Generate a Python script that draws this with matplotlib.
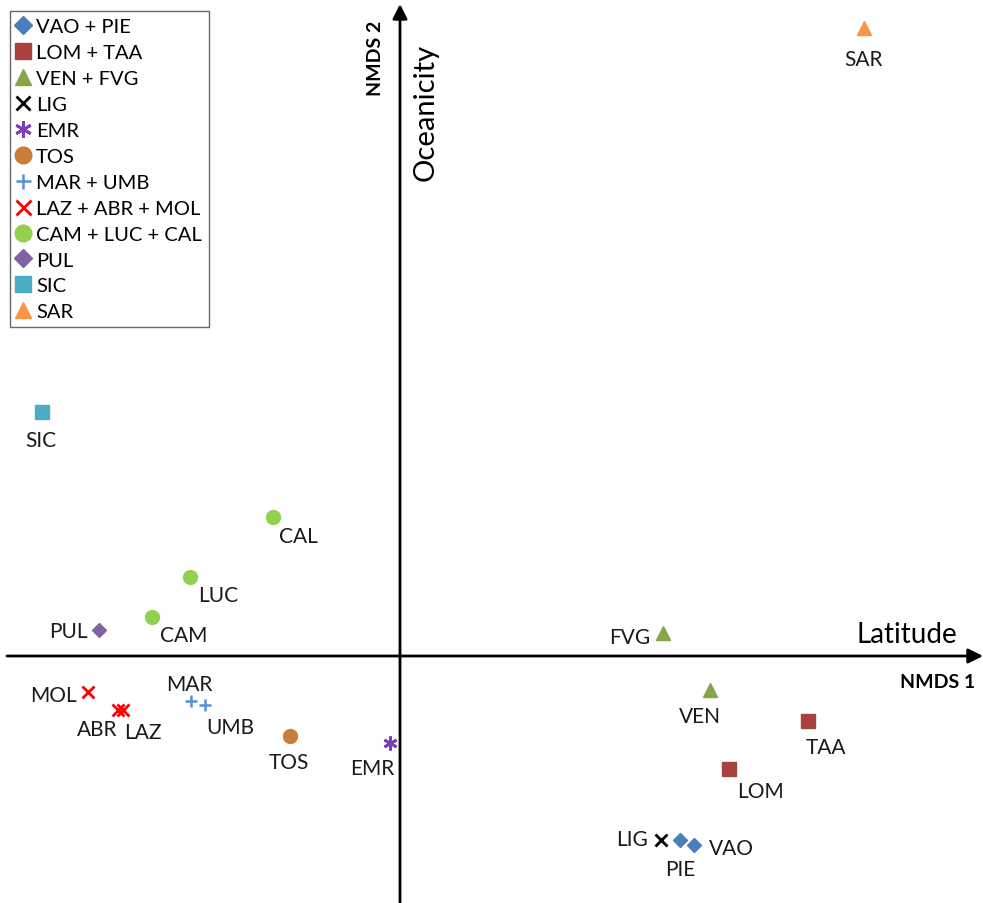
import matplotlib.pyplot as plt

plt.rcParams['font.family'] = ['Lato', 'DejaVu Sans']

# NMDS scores per region
regions = ['SAR', 'SIC', 'CAL', 'LUC', 'CAM', 'PUL', 'MOL', 'ABR', 'LAZ', 'MAR',
           'UMB', 'TOS', 'EMR', 'FVG', 'VEN', 'TAA', 'LOM', 'LIG', 'PIE', 'VAO']
nmds1 = [0.464, -0.358, -0.127, -0.210, -0.248, -0.301, -0.312, -0.282, -0.277, -0.209,
         -0.195, -0.110, -0.010, 0.263, 0.310, 0.408, 0.329, 0.261, 0.280, 0.294]
nmds2 = [0.628, 0.244, 0.139, 0.079, 0.039, 0.026, -0.036, -0.054, -0.054, -0.045,
         -0.049, -0.080, -0.087, 0.023, -0.034, -0.065, -0.113, -0.184, -0.184, -0.189]

# legend groups, in legend order
groups = [
    ('VAO + PIE', ['VAO', 'PIE']),
    ('LOM + TAA', ['LOM', 'TAA']),
    ('VEN + FVG', ['VEN', 'FVG']),
    ('LIG', ['LIG']),
    ('EMR', ['EMR']),
    ('TOS', ['TOS']),
    ('MAR + UMB', ['MAR', 'UMB']),
    ('LAZ + ABR + MOL', ['LAZ', 'ABR', 'MOL']),
    ('CAM + LUC + CAL', ['CAM', 'LUC', 'CAL']),
    ('PUL', ['PUL']),
    ('SIC', ['SIC']),
    ('SAR', ['SAR']),
]

# marker, size, colour, edge width per group
styles = [
    ('D', 7.5, '#4A7EBB', 1),
    ('s', 9.5, '#A8423F', 1),
    ('^', 10, '#86A44A', 1),
    ('x', 8, '#000000', 2),
    ((6, 2, 0), 10, '#7D3FB8', 2),
    ('o', 10, '#C97D3A', 1),
    ('+', 9, '#5B8FD6', 1.8),
    ('x', 9, '#FF0000', 2),
    ('o', 10, '#92D050', 1),
    ('D', 7.5, '#8064A2', 1),
    ('s', 9.5, '#4BACC6', 1),
    ('^', 10, '#F79646', 1),
]

# label offsets in points (text centre relative to marker)
label_off = {
    'SAR': (0, -22), 'SIC': (-1, -20), 'CAL': (18, -14), 'LUC': (20, -13),
    'CAM': (23, -13), 'PUL': (-22, -1), 'MOL': (-25, -2), 'ABR': (-15, -14),
    'LAZ': (14, -16), 'MAR': (-1, 12), 'UMB': (18, -16), 'TOS': (-1, -19),
    'EMR': (-13, -18), 'FVG': (-24, -3), 'VEN': (-7, -19), 'TAA': (13, -19),
    'LOM': (23, -16), 'LIG': (-21, 1), 'PIE': (0, -21), 'VAO': (27, -2),
}

fig = plt.figure(figsize=(9.83, 9.04), dpi=100)
ax = fig.add_axes([0, 0, 1, 1])
ax.set_xlim(-0.400, 0.583)
ax.set_ylim(-0.247, 0.657)
ax.axis('off')

pos = {r: (x, y) for r, x, y in zip(regions, nmds1, nmds2)}

for (name, members), (mk, ms, col, mew) in zip(groups, styles):
    xs = [pos[m][0] for m in members]
    ys = [pos[m][1] for m in members]
    ax.plot(xs, ys, ls='none', marker=mk, ms=ms, color=col, mew=mew,
            mec=col, label=name, zorder=3)

for r in regions:
    ax.annotate(r, pos[r], xytext=label_off[r], textcoords='offset points',
                ha='center', va='center', fontsize=15, color='#1a1a1a')

# axes through origin with arrows
ax.annotate('', xy=(0.583, 0), xytext=(-0.393, 0),
            arrowprops=dict(arrowstyle='-|>', color='black', lw=2,
                            mutation_scale=22, shrinkA=0, shrinkB=0))
ax.annotate('', xy=(0, 0.652), xytext=(0, -0.247),
            arrowprops=dict(arrowstyle='-|>', color='black', lw=2,
                            mutation_scale=22, shrinkA=0, shrinkB=0))

ax.text(0.507, 0.022, 'Latitude', fontsize=20, ha='center', va='center')
ax.text(0.026, 0.545, 'Oceanicity', fontsize=21, ha='center', va='center',
        rotation=90)
ax.text(0.538, -0.026, 'NMDS 1', fontsize=14, fontweight='bold',
        ha='center', va='center')
ax.text(-0.025, 0.599, 'NMDS 2', fontsize=14, fontweight='bold',
        ha='center', va='center', rotation=90)

leg = ax.legend(loc='upper left', bbox_to_anchor=(0.010, 0.987), fontsize=14.5,
                frameon=True, fancybox=False, edgecolor='#444444',
                handlelength=0.65, handletextpad=0.3, labelspacing=0.44,
                borderpad=0.35, borderaxespad=0, numpoints=1, markerscale=1.2)
leg.get_frame().set_linewidth(1)

fig.savefig('out.png', dpi=100)
